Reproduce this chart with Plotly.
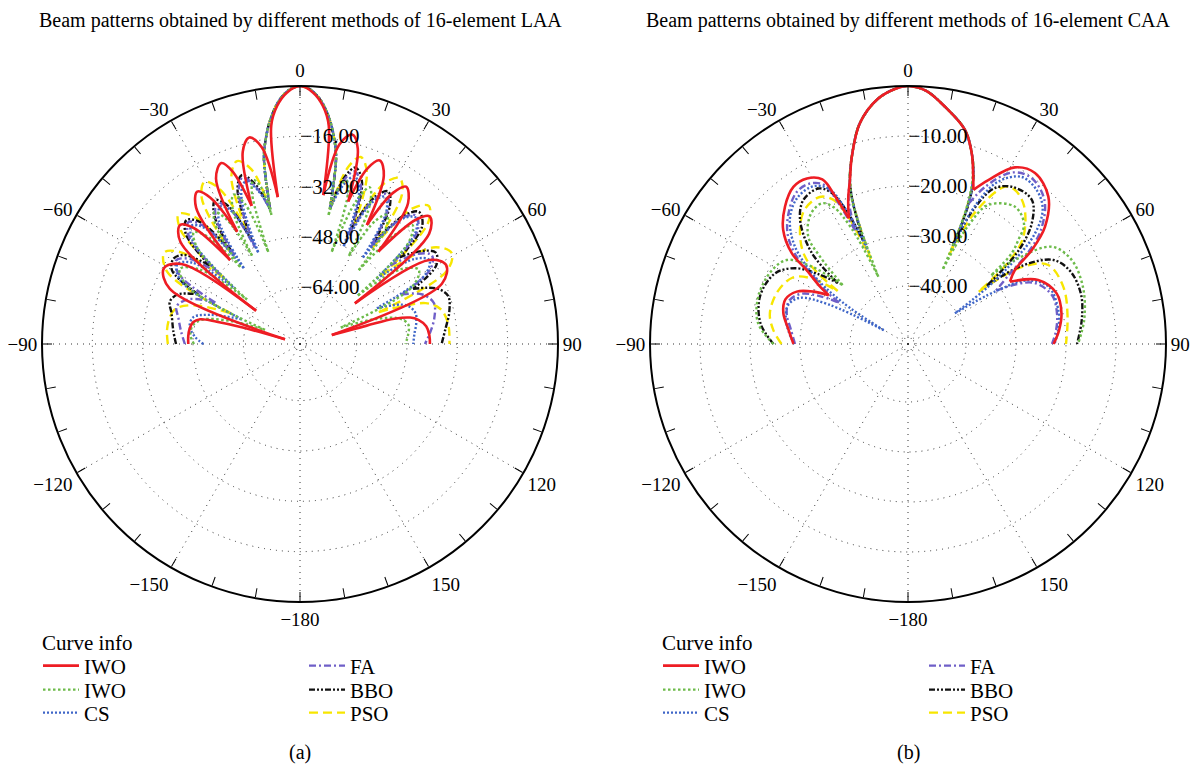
import plotly.graph_objects as go

FONT = "Liberation Serif"

TITLE_A = "Beam patterns obtained by different methods of 16-element LAA"
TITLE_B = "Beam patterns obtained by different methods of 16-element CAA"
CAPTIONS = ["(a)", "(b)"]
LEGEND_TITLE = "Curve info"

ANGLE_TICKS = list(range(0, 360, 10))
ANGLE_LABELS = {0: "0", 30: "30", 60: "60", 90: "90", 120: "120", 150: "150",
                180: "\u2212180", 210: "\u2212150", 240: "\u2212120", 270: "\u221290",
                300: "\u221260", 330: "\u221230"}
GRID_ANGLES = [0, 30, 60, 90, 120, 150, 180, 210, 240, 270, 300, 330]

LAA_RANGE = [-82, 0]
LAA_R_TICKS = [-80, -64, -48, -32, -16]
LAA_R_LABELS = ["", "\u221264.00", "\u221248.00", "\u221232.00", "\u221216.00"]
CAA_RANGE = [-51.6, 0]
CAA_R_TICKS = [-50, -40, -30, -20, -10]
CAA_R_LABELS = ["", "\u221240.00", "\u221230.00", "\u221220.00", "\u221210.00"]

# ---------------- 16-element LAA : lobes as (angle deg, level dB) ----------------
LAA_MAIN = [(-11, -22), (-9.5, -16), (-7.5, -10), (-5, -4.5), (-2.5, -1.2), (0, 0),
            (2.5, -1.2), (5, -4.5), (7.5, -10), (9.5, -16), (11, -22)]

LAA_IWO_RED = [
    [(-90, -46.5), (-86, -46.4), (-82, -46.6), (-78.5, -47.3), (-76.1, -49.3), (-75, -54.6), (-74, -62), (-72.6, -77)],
    [(-72.6, -77), (-67, -37), (-61, -32.5), (-56, -36.5), (-52.9, -64.5)],
    [(-52.9, -64.5), (-49.5, -32), (-45.2, -28.3), (-42.5, -32), (-39.8, -47.3)],
    [(-39.8, -47.3), (-37.3, -27.5), (-34, -23.6), (-31.5, -27.5), (-29.2, -41.1)],
    [(-29.2, -41.1), (-26.9, -23), (-23.5, -19.3), (-21.4, -23), (-19.3, -35.5)],
    [(-19.3, -35.5), (-16.6, -18.3), (-13.8, -14.4), (-11, -18.3), (-8.6, -34.8)],
    [(-8.6, -34.8), (-7.5, -12), (-5.5, -6), (-3, -2), (0, 0), (3, -2), (5.5, -6), (7.5, -12), (8.9, -34.1)],
    [(8.9, -34.1), (11.2, -17.3), (14, -13.4), (16.5, -17.3), (18.7, -34.2)],
    [(18.7, -34.2), (21, -22.3), (23.5, -18.4), (26.5, -22.3), (29.3, -38.6)],
    [(29.3, -38.6), (31.6, -25.6), (34, -21.7), (37.5, -25.6), (40.3, -43.5)],
    [(40.3, -43.5), (43, -28), (45.5, -24.2), (49.5, -28), (53.5, -60.3)],
    [(53.5, -60.3), (57, -33), (61.5, -29.2), (67, -33), (74.2, -71.5)],
    [(74.2, -71.5), (74.6, -60), (75, -51), (76.5, -46), (78.5, -43.6), (82, -41.5), (86, -40.8), (90, -40.7)],
]

LAA_IWO_GREEN = [
    [(-90, -48.3), (-85, -47), (-80, -47.5), (-76, -50), (-72, -58), (-68, -70)],
    [(-68, -70), (-63, -42), (-58, -37), (-53.5, -42), (-50, -60)],
    [(-50, -60), (-47, -37.5), (-43.5, -33), (-40.5, -37.5), (-37.8, -51)],
    [(-37.8, -51), (-35.5, -36), (-33, -32), (-30.5, -36), (-28.5, -50)],
    [(-28.5, -50), (-26.5, -34), (-24, -30), (-21.5, -34), (-19, -51)],
    [(-19, -51), (-17.5, -31), (-15.8, -27.8), (-14, -30.5), (-12.5, -40)],
    [(-12.5, -40)] + LAA_MAIN + [(12.5, -40)],
    [(12.5, -40), (14, -30.5), (15.8, -28), (17.5, -31), (19, -51)],
    [(19, -51), (21.5, -33), (24, -27.5), (26.5, -32), (29, -50)],
    [(29, -50), (31.5, -36), (34, -32.5), (36.5, -36), (38.5, -52)],
    [(38.5, -52), (41, -36), (43.5, -30), (47, -35), (50, -58)],
    [(50, -58), (53.5, -42), (58, -37.5), (63, -42), (68, -68)],
    [(68, -68), (72, -56), (76, -49), (80, -47), (85, -47.5), (90, -48.5)],
]

LAA_CS = [
    [(-90, -51.3), (-86, -48.5), (-81, -46.5), (-76, -47), (-72, -52), (-67, -62)],
    [(-67, -62), (-62, -39), (-57, -35.5), (-53, -39), (-49.5, -55)],
    [(-49.5, -55), (-46, -34.5), (-42.5, -31), (-39.3, -34.5), (-36.5, -52)],
    [(-36.5, -52), (-33.3, -35), (-30, -31.5), (-27, -35), (-24.5, -50)],
    [(-24.5, -50), (-21.5, -31), (-18.5, -27.5), (-15.5, -31), (-12.5, -38)],
    [(-12.5, -38)] + LAA_MAIN + [(12.5, -38)],
    [(12.5, -38), (15.3, -29.5), (18, -26), (21, -29.5), (24, -48)],
    [(24, -48), (27, -31.5), (30, -28), (33, -31.5), (36, -48)],
    [(36, -48), (39, -31), (42.5, -27.5), (46, -31), (49.5, -50)],
    [(49.5, -50), (53.5, -36.5), (57, -33), (61, -36.5), (65, -55)],
    [(65, -55), (70, -46), (75, -44), (80, -44.5), (85, -45.5), (90, -46)],
]

LAA_FA = [
    [(-90, -45.4), (-84, -44), (-78, -42.5), (-73, -41), (-68, -44), (-64, -52)],
    [(-64, -52), (-60, -37.5), (-56, -34.5), (-52.5, -37.5), (-49, -48)],
    [(-49, -48), (-46, -33), (-42.5, -29.5), (-39.5, -33), (-36.5, -47)],
    [(-36.5, -47), (-33.5, -33.5), (-30.5, -30), (-27.5, -33.5), (-25, -48)],
    [(-25, -48), (-22, -30), (-19, -26), (-15.8, -30), (-12.5, -38)],
    [(-12.5, -38)] + LAA_MAIN + [(12.5, -38)],
    [(12.5, -38), (15, -28), (17.5, -24.5), (21, -28), (24, -44)],
    [(24, -44), (27, -30.5), (30, -27), (33, -30.5), (36, -44)],
    [(36, -44), (39, -30.5), (42, -27), (46, -30), (49, -44)],
    [(49, -44), (52.5, -35), (56, -31.5), (60, -34), (64, -46)],
    [(64, -46), (68, -40), (73, -37.5), (79, -38.5), (85, -40.5), (90, -42.3)],
]

LAA_BBO = [
    [(-90, -42.6), (-84, -41.5), (-76.5, -40), (-72, -38.5), (-68, -40), (-64, -46)],
    [(-64, -46), (-60, -35), (-56, -33.5), (-52.5, -35.5), (-49, -44)],
    [(-49, -44), (-46, -31.5), (-42.5, -28.6), (-39.3, -32), (-36.5, -45)],
    [(-36.5, -45), (-33.5, -32.5), (-30.5, -28.9), (-27.5, -32.5), (-25, -46)],
    [(-25, -46), (-22, -29), (-19, -25.2), (-15.8, -29), (-12.5, -38)],
    [(-12.5, -38)] + LAA_MAIN + [(12.5, -38)],
    [(12.5, -38), (15, -27), (17.5, -23.2), (21, -27), (24, -42)],
    [(24, -42), (27, -29.5), (30, -26), (33, -29.5), (36, -42)],
    [(36, -42), (39, -29.5), (42, -25.5), (46, -28), (49, -40)],
    [(49, -40), (52.5, -33.5), (56, -30), (60, -32), (64, -42)],
    [(64, -42), (68, -35), (72, -32.5), (78, -33.5), (84, -35.5), (90, -37)],
]

LAA_PSO = [
    [(-90, -40), (-84, -39.5), (-78, -39.8), (-74, -41), (-70, -46), (-66, -58)],
    [(-66, -58), (-61.5, -34), (-56, -30), (-52.5, -34), (-49, -50)],
    [(-49, -50), (-46.3, -29.5), (-43, -25.5), (-39.7, -29.5), (-37, -46)],
    [(-37, -46), (-34, -26.2), (-30.5, -22.2), (-27.5, -26.2), (-25, -42)],
    [(-25, -42), (-22.3, -24.5), (-19, -20.5), (-15.5, -24.5), (-12.5, -38)],
    [(-12.5, -38)] + LAA_MAIN + [(12.5, -38)],
    [(12.5, -38), (15.3, -23.5), (18, -19.5), (21.3, -23.5), (24.5, -40)],
    [(24.5, -40), (27.6, -24.5), (31, -20.5), (34.3, -24.5), (37, -44)],
    [(37, -44), (39.7, -26), (43, -22), (46.6, -26), (50, -48)],
    [(50, -48), (54, -29.8), (59, -25.8), (63.5, -29.8), (68, -55)],
    [(68, -55), (72, -40), (76, -36), (82, -34.5), (90, -34.5)],
]

# ---------------- 16-element CAA ----------------
CAA_MAIN = [(-19.5, -16.8), (-16.7, -12.5), (-12.3, -6.4), (-7, -2.2), (-2.5, -0.4), (0, 0),
            (4, -0.8), (8.9, -3.6), (14.9, -7.3), (18.5, -11.4)]

CAA_IWO_RED = [
    [(-90, -28.7), (-83, -27.5), (-76, -25.9), (-70, -25.5), (-64.8, -27), (-61, -30), (-58.4, -33)],
    [(-58.4, -33), (-56.9, -30.6), (-53.9, -26.5), (-52, -22.1), (-47.6, -17.8), (-41.8, -14.7),
     (-36.1, -12.7), (-31.4, -12.8), (-27.5, -14.5), (-26.2, -19), (-25.2, -23.8)],
    [(-25.2, -23.8), (-22.3, -20.1)] + CAA_MAIN + [(21.7, -16.3), (23, -18.1)],
    [(23, -18.1), (26.1, -15.1), (31.2, -10.3), (36.6, -9.0), (43.6, -10.9), (49.4, -15.5),
     (52.8, -20.5), (55.3, -25.6), (58.6, -27.7)],
    [(58.6, -27.7), (63.8, -22.6), (71.2, -20.2), (78.7, -20.3), (85, -21.3), (90, -22.5)],
]

CAA_IWO_GREEN = [
    [(-90, -24.7), (-82, -21.3), (-72.5, -20.2), (-62, -20.6), (-55.3, -22.1), (-51.2, -26.9), (-48, -34)],
    [(-48, -34), (-45.2, -26.8), (-42.9, -22.3), (-37, -19.2), (-31.5, -18.6), (-28.5, -20.5),
     (-26, -26), (-23.8, -36.9)],
    [(-23.8, -36.9), (-21.5, -21.5)] + CAA_MAIN + [(21.5, -16.5), (23.5, -23), (25, -35)],
    [(25, -35), (27, -25), (30, -19.5), (37.9, -16.8), (44, -18.2), (46.7, -21.3), (48.8, -24), (50.5, -30)],
    [(50.5, -30), (52, -24), (55.9, -16.9), (62.8, -14.8), (72, -14.8), (82, -16), (90, -17.6)],
]

CAA_CS = [
    [(-90, -28.8), (-84, -27.6), (-78, -26.6), (-72, -26.4), (-67, -28), (-63.5, -34), (-60.4, -46)],
    [(-60.4, -46), (-57.5, -36), (-54, -28.5), (-49, -21.5), (-43, -17), (-37, -14.9), (-31, -14.8),
     (-27, -16.8), (-24.8, -22), (-23.2, -31)],
    [(-23.2, -31), (-21.2, -21)] + CAA_MAIN + [(21.5, -16), (23.5, -22), (24.5, -30)],
    [(24.5, -30), (26, -20.5), (29, -14.5), (34.2, -11.2), (40, -11.5), (45, -13.5), (49, -18),
     (52, -25), (54.5, -32), (56.8, -40.4)],
    [(56.8, -40.4), (59, -31), (62, -24.5), (68, -21.2), (78, -20.8), (85, -21.5), (90, -22.3)],
]

CAA_FA = [
    [(-90, -29), (-83, -28), (-76, -26.6), (-70, -26.3), (-64.8, -28), (-61.5, -31.5), (-59, -35.5)],
    [(-59, -35.5), (-57, -31.8), (-54, -27.6), (-52, -23.4), (-47.6, -19), (-41.8, -15.9),
     (-36.1, -13.9), (-31.4, -14), (-27.8, -15.6), (-26.3, -20), (-25, -26.5)],
    [(-25, -26.5), (-22.3, -20.3)] + CAA_MAIN + [(21.7, -16.5), (23.4, -21)],
    [(23.4, -21), (26.3, -16.4), (31.2, -11.5), (36.6, -10.2), (43.6, -12), (49.4, -16.6),
     (52.8, -21.6), (55.5, -27), (58.8, -31)],
    [(58.8, -31), (63.8, -23.8), (71.2, -21.2), (78.7, -21.2), (85, -21.9), (90, -22.8)],
]

CAA_BBO = [
    [(-90, -24.7), (-82, -21.8), (-72, -20.5), (-62, -21.5), (-56, -24.5), (-52, -29), (-49, -33)],
    [(-49, -33), (-46.5, -25), (-41, -18.7), (-36, -16), (-30, -15.7), (-27, -17.5), (-25, -21.5), (-23.4, -29)],
    [(-23.4, -29), (-21.2, -21)] + CAA_MAIN + [(21.5, -16), (23.5, -21.5), (24.5, -30)],
    [(24.5, -30), (26, -21.5), (29, -16), (34, -13.8), (40.7, -13.6), (45.7, -17), (49.5, -22.1),
     (52, -28), (53.5, -32)],
    [(53.5, -32), (55.5, -24), (60, -18), (66, -16), (74, -15.6), (82, -16.5), (90, -17.8)],
]

CAA_PSO = [
    [(-90, -26.3), (-84, -24.5), (-77.5, -23.3), (-68, -23.5), (-60, -25), (-56, -28), (-53, -34)],
    [(-53, -34), (-50.3, -25.3), (-45.2, -21.2), (-38, -17.8), (-31, -17.3), (-27.5, -19), (-25.3, -23), (-23.6, -33)],
    [(-23.6, -33), (-21.2, -21)] + CAA_MAIN + [(21.5, -16), (23.5, -22.5), (24.8, -32)],
    [(24.8, -32), (27, -22), (31.7, -14.6), (34.8, -14.1), (40, -15.5), (47.1, -20.1), (50.5, -25), (53.5, -34)],
    [(53.5, -34), (56, -24), (60.6, -19.4), (70, -18.5), (80, -19.2), (90, -20)],
]

# ---------------- styles ----------------
STYLE = {
    "PSO": dict(color="#f7e600", width=2.4, dash="9px,5px"),
    "BBO": dict(color="#111111", width=2.4, dash="6px,2px,2px,2px,2px,2px"),
    "FA": dict(color="#6f5fc8", width=2.4, dash="7px,3px,2px,3px"),
    "CS": dict(color="#3f66c8", width=2.4, dash="2px,2px"),
    "IWO_G": dict(color="#6dbb4a", width=2.4, dash="2.5px,2.5px"),
    "IWO_R": dict(color="#ee1d24", width=2.6, dash="solid"),
}

# page is offset by the 8px body margin of the html page
OFF = 8
W, H = 1204 - OFF, 773 - OFF


def px(x):
    return (x - OFF) / W


def py(y):
    return 1 - (y - OFF) / H


fig = go.Figure()


def flatten(lobes):
    th, rr = [], []
    for lobe in lobes:
        for a, v in lobe:
            th.append(a)
            rr.append(v)
        th.append(None)
        rr.append(None)
    return th, rr


def add_grid(subplot, rng):
    th, rr = [], []
    for a in GRID_ANGLES:
        th += [a, a, None]
        rr += [rng[0], rng[1], None]
    fig.add_trace(go.Scatterpolar(theta=th, r=rr, mode="lines", subplot=subplot,
                                  line=dict(color="#333333", width=1, dash="1px,5px"),
                                  showlegend=False, hoverinfo="skip"))


# legend placement: (column line start x, row centre y) in page pixels
LEGEND_SLOTS = {"IWO_R": (42, 666), "IWO_G": (42, 690), "CS": (42, 713),
                "FA": (308, 666), "BBO": (308, 690), "PSO": (308, 713)}
NAMES = {"IWO_R": "IWO", "IWO_G": "IWO", "CS": "CS", "FA": "FA", "BBO": "BBO", "PSO": "PSO"}
DRAW_ORDER = ["PSO", "BBO", "FA", "CS", "IWO_G", "IWO_R"]

legend_layouts = {}
leg_counter = [0]


def add_series(subplot, curves, dx):
    for key in DRAW_ORDER:
        leg_counter[0] += 1
        lname = "legend" if leg_counter[0] == 1 else "legend%d" % leg_counter[0]
        lx, ly = LEGEND_SLOTS[key]
        legend_layouts[lname] = dict(x=px(lx + dx - 4), y=py(ly), xanchor="left", yanchor="middle",
                                     bgcolor="rgba(0,0,0,0)", itemwidth=36,
                                     font=dict(family=FONT, size=21, color="black"))
        th, rr = flatten(curves[key])
        fig.add_trace(go.Scatterpolar(theta=th, r=rr, mode="lines", name=NAMES[key], subplot=subplot,
                                      legend=lname, connectgaps=False,
                                      line=dict(shape="spline", smoothing=1.0, **STYLE[key])))


add_grid("polar", LAA_RANGE)
add_series("polar", {"PSO": LAA_PSO, "BBO": LAA_BBO, "FA": LAA_FA, "CS": LAA_CS,
                     "IWO_G": LAA_IWO_GREEN, "IWO_R": LAA_IWO_RED}, 0)
add_grid("polar2", CAA_RANGE)
add_series("polar2", {"PSO": CAA_PSO, "BBO": CAA_BBO, "FA": CAA_FA, "CS": CAA_CS,
                      "IWO_G": CAA_IWO_GREEN, "IWO_R": CAA_IWO_RED}, 620)


def polar_cfg(cx, rng, rt, rl):
    return dict(
        domain=dict(x=[px(cx - 258), px(cx + 258)], y=[py(602), py(86)]),
        bgcolor="white",
        angularaxis=dict(rotation=90, direction="clockwise", tickmode="array",
                         tickvals=ANGLE_TICKS,
                         ticktext=[ANGLE_LABELS.get(a, "") for a in ANGLE_TICKS],
                         ticks="inside", ticklen=9, tickwidth=1.3, tickcolor="black",
                         showline=True, linecolor="black", linewidth=2, showgrid=False,
                         tickfont=dict(family=FONT, size=19, color="black")),
        radialaxis=dict(range=rng, tickmode="array", tickvals=rt, ticktext=rl, angle=90,
                        tickangle=90, side="clockwise", showline=False, ticks="", showgrid=True,
                        gridcolor="#333333", gridwidth=1, griddash="1px,5px",
                        tickfont=dict(family=FONT, size=21, color="black")),
    )


def text_ann(text, x, y, size, yanchor="middle"):
    return dict(text=text, x=px(x), y=py(y), xref="paper", yref="paper", showarrow=False,
                xanchor="center", yanchor=yanchor, borderpad=0, borderwidth=0,
                font=dict(family=FONT, size=size, color="black"))


fig.update_layout(
    width=W, height=H, margin=dict(l=0, r=0, t=0, b=0),
    paper_bgcolor="white", plot_bgcolor="white", showlegend=True,
    polar=polar_cfg(300, LAA_RANGE, LAA_R_TICKS, LAA_R_LABELS),
    polar2=polar_cfg(908, CAA_RANGE, CAA_R_TICKS, CAA_R_LABELS),
    annotations=[
        text_ann(TITLE_A, 300, OFF + 1, 20, "top"),
        text_ann(TITLE_B, 908, OFF + 1, 20, "top"),
        text_ann(CAPTIONS[0], 300, 752, 20),
        text_ann(CAPTIONS[1], 908, 752, 20),
        dict(text=LEGEND_TITLE, x=px(40), y=py(643), xref="paper", yref="paper", showarrow=False,
             xanchor="left", yanchor="middle", font=dict(family=FONT, size=21, color="black")),
        dict(text=LEGEND_TITLE, x=px(660), y=py(643), xref="paper", yref="paper", showarrow=False,
             xanchor="left", yanchor="middle", font=dict(family=FONT, size=21, color="black")),
    ],
    **legend_layouts,
)

fig.write_html("out.html")
